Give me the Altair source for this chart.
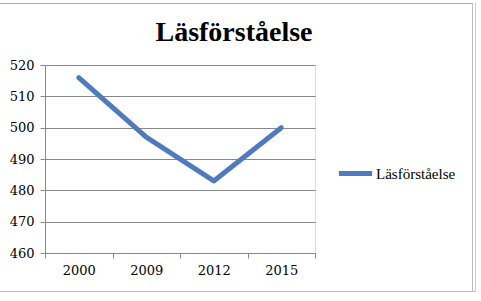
import altair as alt
import pandas as pd

years = ["2000", "2009", "2012", "2015"]
values = [516, 497, 483, 500]
series = ["Läsförståelse"] * 4

df = pd.DataFrame({"År": years, "Poäng": values, "Serie": series})

FONT = "Liberation Serif"
AXFONT = "DejaVu Serif"

line = alt.Chart(df).mark_line(strokeWidth=5, strokeCap="round", strokeJoin="round").encode(
    x=alt.X("År:N", sort=years, title=None,
            scale=alt.Scale(paddingInner=0, paddingOuter=0),
            axis=alt.Axis(labelAngle=0, grid=False, tickBand="extent", domainColor="#888888",
                          tickColor="#888888", tickSize=5, labelPadding=6, labelFontSize=13,
                          labelFont=AXFONT, labelColor="black")),
    y=alt.Y("Poäng:Q", title=None,
            scale=alt.Scale(domain=[460, 520], nice=False, zero=False),
            axis=alt.Axis(values=[460, 470, 480, 490, 500, 510, 520], gridColor="#888888",
                          domainColor="#888888", tickColor="#888888", tickSize=5,
                          labelPadding=6, labelFontSize=13, labelFont=AXFONT, labelColor="black")),
    color=alt.Color("Serie:N", scale=alt.Scale(range=["#4F7BBE"]),
                    legend=alt.Legend(title=None, orient="none", legendX=291, legendY=89,
                                      symbolType="stroke", symbolStrokeWidth=5, symbolSize=1100,
                                      labelFont=FONT, labelFontSize=15, labelColor="black",
                                      labelOffset=1)),
)

# decorative object frame (top, right, bottom edges)
frame_df = pd.DataFrame({"k": [0]})
fr = alt.Chart(frame_df)
top = fr.mark_rule(color="#AAAAAA", strokeWidth=1).encode(
    x=alt.value(-45), x2=alt.value(427), y=alt.value(-61.5))
right = fr.mark_rule(color="#BBBBBB", strokeWidth=1).encode(
    x=alt.value(427.5), y=alt.value(-62), y2=alt.value(227))
right2 = fr.mark_rule(color="#CCCCCC", strokeWidth=1).encode(
    x=alt.value(430.5), y=alt.value(-62), y2=alt.value(227))
bottom = fr.mark_rule(color="#BBBBBB", strokeWidth=1).encode(
    x=alt.value(-45), x2=alt.value(430), y=alt.value(226.5))

chart = alt.layer(line, top, right, right2, bottom).properties(
    width=270, height=188,
    title=alt.TitleParams("Läsförståelse", font=FONT, fontSize=28, fontWeight="bold",
                          anchor="middle", dx=54, dy=62, offset=18, color="black"),
    autosize=alt.AutoSizeParams(type="none"),
    padding={"left": 45, "top": 65, "right": 166, "bottom": 48},
).configure_view(stroke=None).configure(background="white")

chart.save("out.html", embed_options={"renderer": "svg", "actions": False})
